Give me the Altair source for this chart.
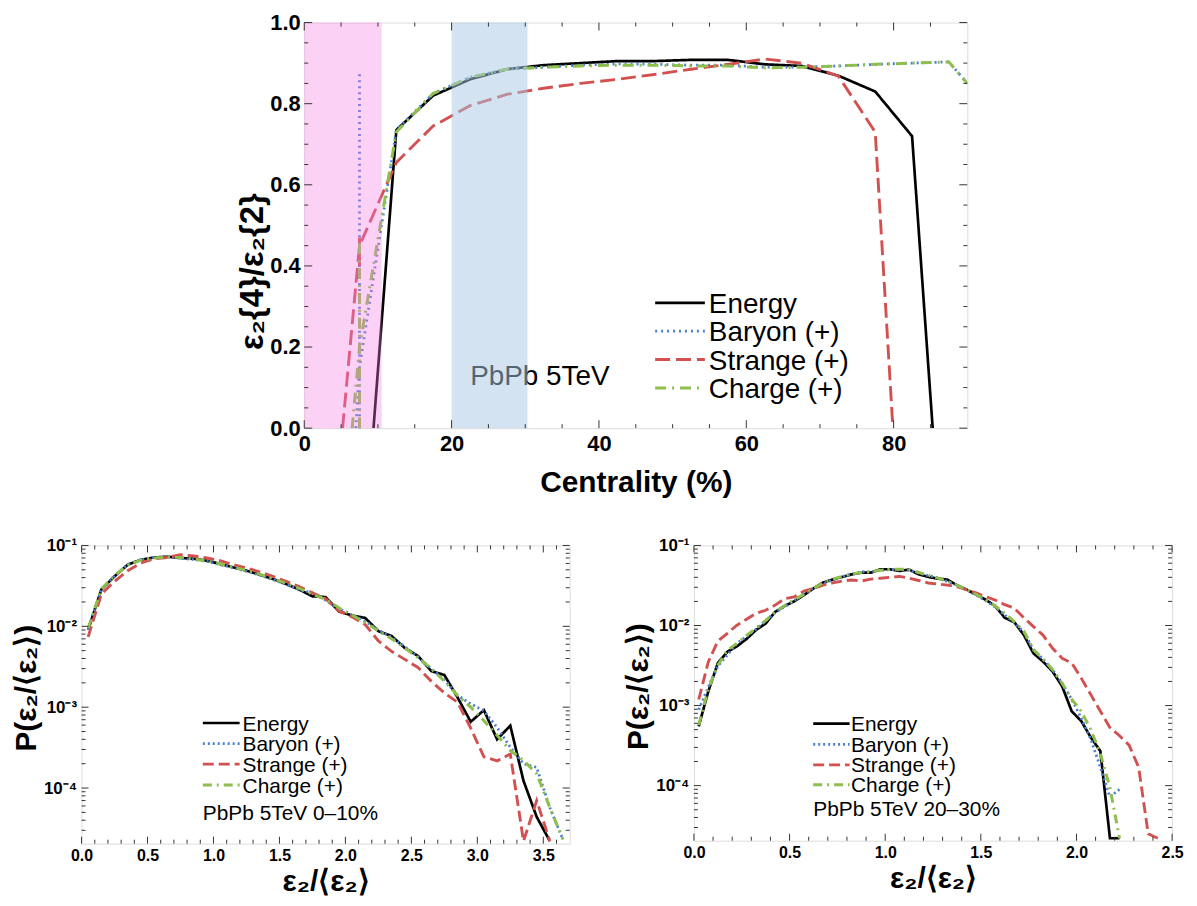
import altair as alt
import pandas as pd

FONT = "Liberation Sans"
SERIES = ["Energy", "Baryon (+)", "Strange (+)", "Charge (+)"]
COLORS = ["#000000", "#4a7fd3", "#d2504f", "#8ebe4b"]

# ---------------- top panel: eps2{4}/eps2{2} vs centrality ----------------
energy_cent = [9.4, 12.5, 17.5, 22.5, 27.5, 32.5, 37.5, 42.5, 47.5, 52.5, 57.5, 62.5, 67.5, 72.5, 77.5, 82.5, 85.3]
energy_ratio = [0.0, 0.735, 0.82, 0.86, 0.885, 0.895, 0.9, 0.905, 0.905, 0.908, 0.908, 0.897, 0.893, 0.869, 0.83, 0.72, 0.0]
baryon_cent = [7.0, 7.5, 12.5, 17.5, 22.5, 27.5, 32.5, 37.5, 42.5, 47.5, 52.5, 57.5, 62.5, 67.5, 72.5, 77.5, 82.5, 87.5, 90.0]
baryon_ratio = [0.0, 0.15, 0.735, 0.825, 0.865, 0.885, 0.89, 0.895, 0.898, 0.897, 0.895, 0.895, 0.89, 0.89, 0.893, 0.897, 0.9, 0.903, 0.85]
strange_cent = [5.2, 7.5, 12.5, 17.5, 22.5, 27.5, 32.5, 37.5, 42.5, 47.5, 52.5, 57.5, 62.5, 67.5, 72.5, 77.5, 79.9]
strange_ratio = [0.0, 0.45, 0.655, 0.745, 0.795, 0.823, 0.838, 0.85, 0.86, 0.872, 0.885, 0.897, 0.91, 0.9, 0.868, 0.73, 0.0]
charge_cent = [6.5, 7.5, 12.5, 17.5, 22.5, 27.5, 32.5, 37.5, 42.5, 47.5, 52.5, 57.5, 62.5, 67.5, 72.5, 77.5, 82.5, 87.5, 90.0]
charge_ratio = [0.0, 0.2, 0.73, 0.825, 0.865, 0.885, 0.89, 0.893, 0.895, 0.895, 0.893, 0.893, 0.888, 0.89, 0.893, 0.897, 0.9, 0.903, 0.85]
err_series = ["Baryon (+)", "Strange (+)", "Charge (+)"]
err_cent = [7.5, 7.5, 7.5]
err_lo = [0.0, 0.40, 0.0]
err_hi = [0.875, 0.47, 0.46]
band_lo = [0.0, 20.0]
band_hi = [10.5, 30.3]
top_note = "PbPb 5TeV"
top_x_major = [0, 20, 40, 60, 80]
top_x_minor = [5, 10, 15, 25, 30, 35, 45, 50, 55, 65, 70, 75, 85]
top_y_major = [0.0, 0.2, 0.4, 0.6, 0.8, 1.0]
top_y_minor = [0.05, 0.1, 0.15, 0.25, 0.3, 0.35, 0.45, 0.5, 0.55, 0.65, 0.7, 0.75, 0.85, 0.9, 0.95]

# ---------------- bottom-left: 0-10% ----------------
bl_x36 = [0.05, 0.15, 0.25, 0.35, 0.45, 0.55, 0.65, 0.75, 0.85, 0.95,
          1.05, 1.15, 1.25, 1.35, 1.45, 1.55, 1.65, 1.75, 1.85, 1.95,
          2.05, 2.15, 2.25, 2.35, 2.45, 2.55, 2.65, 2.75, 2.85, 2.95,
          3.05, 3.15, 3.25, 3.35, 3.45, 3.55]
bl_x37 = bl_x36 + [3.65]
bl_energy = [0.0091, 0.0285, 0.0415, 0.0578, 0.0667, 0.071, 0.0726, 0.070, 0.0686, 0.0648,
             0.059, 0.0536, 0.0488, 0.0436, 0.0385, 0.0334, 0.0285, 0.0235, 0.023, 0.0153,
             0.0136, 0.0127, 0.0087, 0.0076, 0.0054, 0.0043, 0.0028, 0.0025, 0.00132, 0.00066,
             0.00092, 0.0004, 0.00059, 0.000123, 0.000044, 0.000022]
bl_strange = [0.0074, 0.025, 0.036, 0.0488, 0.0607, 0.0686, 0.071, 0.0768, 0.074, 0.070,
              0.065, 0.0578, 0.0526, 0.047, 0.0415, 0.036, 0.031, 0.0259, 0.022, 0.0155,
              0.0131, 0.0105, 0.0066, 0.0049, 0.0039, 0.0031, 0.0021, 0.0015, 0.00115, 0.00055,
              0.000243, 0.000217, 0.000263, 0.000022, 0.00007, 0.000022]
bl_baryon = [0.009, 0.0285, 0.042, 0.058, 0.067, 0.071, 0.072, 0.0695, 0.067, 0.0635,
             0.058, 0.053, 0.048, 0.043, 0.038, 0.033, 0.0285, 0.026, 0.021, 0.0165,
             0.0138, 0.0115, 0.009, 0.0073, 0.0056, 0.0042, 0.003, 0.0022, 0.0014, 0.0011,
             0.0009, 0.00056, 0.00032, 0.0002, 0.00018, 0.000057, 0.000023]
bl_charge = [0.0095, 0.029, 0.0425, 0.057, 0.066, 0.07, 0.0715, 0.071, 0.068, 0.064,
             0.0595, 0.054, 0.049, 0.044, 0.039, 0.034, 0.0295, 0.025, 0.0215, 0.017,
             0.0138, 0.0112, 0.0088, 0.007, 0.0054, 0.0041, 0.003, 0.0021, 0.0014, 0.001,
             0.00068, 0.00045, 0.00029, 0.00022, 0.00015, 0.000057, 0.000023]
bl_note = "PbPb 5TeV 0–10%"
bl_x_major = [0.0, 0.5, 1.0, 1.5, 2.0, 2.5, 3.0, 3.5]
bl_x_minor = [0.1, 0.2, 0.3, 0.4, 0.6, 0.7, 0.8, 0.9, 1.1, 1.2, 1.3, 1.4, 1.6, 1.7, 1.8, 1.9,
              2.1, 2.2, 2.3, 2.4, 2.6, 2.7, 2.8, 2.9, 3.1, 3.2, 3.3, 3.4, 3.6]

# ---------------- bottom-right: 20-30% ----------------
br_x45 = [0.025, 0.075, 0.125, 0.175, 0.225, 0.275, 0.325, 0.375, 0.425, 0.475,
          0.525, 0.575, 0.625, 0.675, 0.725, 0.775, 0.825, 0.875, 0.925, 0.975,
          1.025, 1.075, 1.125, 1.175, 1.225, 1.275, 1.325, 1.375, 1.425, 1.475,
          1.525, 1.575, 1.625, 1.675, 1.725, 1.775, 1.825, 1.875, 1.925, 1.975,
          2.025, 2.075, 2.125, 2.175, 2.225]
br_x49 = br_x45 + [2.275, 2.325, 2.375, 2.425]
br_energy = [0.00055, 0.0015, 0.0034, 0.0047, 0.0055, 0.0068, 0.0088, 0.0106, 0.0148, 0.0176,
             0.0201, 0.024, 0.029, 0.0344, 0.0375, 0.0404, 0.0436, 0.0457, 0.0457, 0.0504,
             0.0504, 0.048, 0.050, 0.0436, 0.0404, 0.0385, 0.0375, 0.0319, 0.0281, 0.0244,
             0.021, 0.0175, 0.0125, 0.011, 0.0076, 0.0045, 0.00355, 0.00267, 0.00174, 0.00085,
             0.00064, 0.0004, 0.00027, 0.000022, 0.000022]
br_strange = [0.00119, 0.0035, 0.0064, 0.008, 0.0101, 0.012, 0.0142, 0.0155, 0.018, 0.0217,
              0.0228, 0.0269, 0.029, 0.032, 0.034, 0.036, 0.037, 0.036, 0.038, 0.039,
              0.040, 0.041, 0.039, 0.0365, 0.034, 0.033, 0.032, 0.0305, 0.028, 0.0255,
              0.023, 0.0208, 0.0182, 0.0165, 0.0125, 0.0097, 0.0076, 0.0052, 0.0039, 0.0034,
              0.0022, 0.00137, 0.00085, 0.00053, 0.00042, 0.00032, 0.00017, 0.000025, 0.000022]
br_baryon = [0.00089, 0.0017, 0.0031, 0.0043, 0.006, 0.0073, 0.009, 0.0115, 0.0145, 0.0172,
             0.0205, 0.025, 0.0295, 0.0335, 0.037, 0.041, 0.0435, 0.047, 0.0465, 0.049,
             0.05, 0.0495, 0.049, 0.0455, 0.042, 0.0395, 0.0355, 0.032, 0.028, 0.024,
             0.0205, 0.017, 0.0135, 0.011, 0.0082, 0.005, 0.0038, 0.0028, 0.0019, 0.0012,
             0.0007, 0.00038, 0.00017, 0.000072, 0.00009]
br_charge = [0.00057, 0.0016, 0.0032, 0.0049, 0.006, 0.0075, 0.0093, 0.0115, 0.0148, 0.0178,
             0.021, 0.0245, 0.029, 0.034, 0.038, 0.041, 0.044, 0.046, 0.047, 0.049,
             0.0505, 0.0505, 0.05, 0.046, 0.0425, 0.039, 0.0355, 0.032, 0.028, 0.0245,
             0.021, 0.0175, 0.0142, 0.0112, 0.0085, 0.005, 0.0038, 0.0028, 0.0019, 0.0012,
             0.00085, 0.0005, 0.00025, 0.000095, 0.000022]
br_note = "PbPb 5TeV 20–30%"
br_x_major = [0.0, 0.5, 1.0, 1.5, 2.0, 2.5]
br_x_minor = [0.1, 0.2, 0.3, 0.4, 0.6, 0.7, 0.8, 0.9, 1.1, 1.2, 1.3, 1.4, 1.6, 1.7, 1.8, 1.9,
              2.1, 2.2, 2.3, 2.4]

LOG_MAJOR = [1e-4, 1e-3, 1e-2, 1e-1]
LOG_MINOR = [3e-5, 4e-5, 5e-5, 6e-5, 7e-5, 8e-5, 9e-5,
             2e-4, 3e-4, 4e-4, 5e-4, 6e-4, 7e-4, 8e-4, 9e-4,
             2e-3, 3e-3, 4e-3, 5e-3, 6e-3, 7e-3, 8e-3, 9e-3,
             2e-2, 3e-2, 4e-2, 5e-2, 6e-2, 7e-2, 8e-2, 9e-2]

TICK_COLOR = "#333333"


def long_df(pairs):
    return pd.concat([pd.DataFrame({"x": xs, "y": ys, "series": n}) for n, xs, ys in pairs],
                     ignore_index=True)


def tick_layers(xs, ys, W, H, x_major, x_minor, y_major, y_minor, maj, mnr):
    out = []
    for vals, L in ((x_major, maj), (x_minor, mnr)):
        d = pd.DataFrame({"t": vals})
        for y0, y1 in ((H, H - L), (0, L)):
            out.append(alt.Chart(d).mark_rule(color=TICK_COLOR, strokeWidth=1).encode(
                x=alt.X("t:Q", scale=xs, axis=None), y=alt.value(y0), y2=alt.value(y1)))
    for vals, L in ((y_major, maj), (y_minor, mnr)):
        d = pd.DataFrame({"t": vals})
        for x0, x1 in ((0, L), (W, W - L)):
            out.append(alt.Chart(d).mark_rule(color=TICK_COLOR, strokeWidth=1).encode(
                y=alt.Y("t:Q", scale=ys, axis=None), x=alt.value(x0), x2=alt.value(x1)))
    return out


def legend_layers(x0, x1, xt, rows, fs, color_enc, dash_enc, width_enc):
    out = []
    for name, yc in zip(SERIES, rows):
        d = pd.DataFrame({"series": [name]})
        out.append(alt.Chart(d).mark_rule().encode(
            x=alt.value(x0), x2=alt.value(x1), y=alt.value(yc), color=color_enc, strokeDash=dash_enc,
            strokeWidth=width_enc))
        out.append(alt.Chart(d).mark_text(align="left", baseline="alphabetic", font=FONT,
                                          fontSize=fs, color="black").encode(
            x=alt.value(xt), y=alt.value(yc + 0.36 * fs), text="series:N"))
    return out


color_enc = alt.Color("series:N", scale=alt.Scale(domain=SERIES, range=COLORS), legend=None)

# ================= top chart =================
TW, TH = 667, 408
top_df = long_df([("Energy", energy_cent, energy_ratio), ("Baryon (+)", baryon_cent, baryon_ratio),
                  ("Strange (+)", strange_cent, strange_ratio), ("Charge (+)", charge_cent, charge_ratio)])
xs_top = alt.Scale(domain=[0, 90], nice=False, zero=False)
ys_top = alt.Scale(domain=[0, 1], nice=False)
dash_top = alt.StrokeDash("series:N", scale=alt.Scale(domain=SERIES, range=[[1, 0], [2, 4], [15, 6], [11, 6, 2, 6]]),
                          legend=None)
width_top = alt.StrokeWidth("series:N", scale=alt.Scale(domain=SERIES, range=[2.7, 3.0, 2.6, 2.6]), legend=None)

top_lines = alt.Chart(top_df).mark_line(clip=True).encode(
    x=alt.X("x:Q", scale=xs_top, axis=alt.Axis(
        values=top_x_major, format="d", ticks=False, domain=False,
        grid=False, labelFlush=False, labelFont=FONT, labelFontSize=22, labelFontWeight="bold",
        labelColor="black", labelPadding=5, title="Centrality (%)",
        titleFont=FONT, titleFontSize=30, titleFontWeight="bold", titleColor="black", titlePadding=14)),
    y=alt.Y("y:Q", scale=ys_top, axis=alt.Axis(
        values=top_y_major, format=".1f", ticks=False,
        domain=False, grid=False, labelFont=FONT, labelFontSize=22, labelFontWeight="bold",
        labelColor="black", labelPadding=4, title="ε₂{4}/ε₂{2}", titleY=250,
        titleFont=FONT, titleFontSize=33, titleFontWeight="bold", titleColor="black", titlePadding=0)),
    color=color_enc, strokeDash=dash_top, strokeWidth=width_top)

err_df = pd.DataFrame({"series": err_series, "x": err_cent, "lo": err_lo, "hi": err_hi})
top_err = alt.Chart(err_df).mark_rule().encode(
    x=alt.X("x:Q", scale=xs_top, axis=None), y=alt.Y("lo:Q", scale=ys_top, axis=None), y2="hi:Q",
    color=color_enc, strokeDash=dash_top, strokeWidth=width_top)

band_df = pd.DataFrame({"lo": band_lo, "hi": band_hi})
pink = alt.Chart(band_df.iloc[[0]]).mark_rect(color="#f67ae4", opacity=0.35).encode(
    x=alt.X("lo:Q", scale=xs_top, axis=None), x2="hi:Q", y=alt.value(0), y2=alt.value(TH))
blue = alt.Chart(band_df.iloc[[1]]).mark_rect(color="#a7c7e3", opacity=0.5).encode(
    x=alt.X("lo:Q", scale=xs_top, axis=None), x2="hi:Q", y=alt.value(0), y2=alt.value(TH))

top_note_l = alt.Chart(pd.DataFrame({"t": [top_note]})).mark_text(
    align="left", baseline="alphabetic", font=FONT, fontSize=28, color="black").encode(
    x=alt.value(167), y=alt.value(365), text="t:N")

top_layers = [top_lines, top_err, top_note_l, pink, blue]
top_layers += legend_layers(353, 403, 407, [282, 310.5, 339, 367.5], 28, color_enc, dash_top, width_top)
top_layers += tick_layers(xs_top, ys_top, TW, TH, top_x_major, top_x_minor, top_y_major, top_y_minor, 8, 4)
top = alt.layer(*top_layers).resolve_axis(x="independent", y="independent").properties(width=TW, height=TH)

# ================= bottom charts =================
dash_bot = alt.StrokeDash("series:N", scale=alt.Scale(domain=SERIES, range=[[1, 0], [2, 3], [11, 5], [9, 5, 2, 5]]),
                          legend=None)
width_bot = alt.StrokeWidth("series:N", scale=alt.Scale(domain=SERIES, range=[2.2, 2.5, 2.2, 2.2]), legend=None)
LOG_EXPR = ("datum.value > 0.05 ? '10⁻¹' : datum.value > 0.005 ? '10⁻²' : "
            "datum.value > 0.0005 ? '10⁻³' : '10⁻⁴'")


def bottom_panel(df, xmax, x_major, x_minor, W, H, leg, note, note_xy):
    xs = alt.Scale(domain=[0, xmax], nice=False, zero=False)
    ys = alt.Scale(type="log", domain=[2.05e-5, 0.1], nice=False)
    lines = alt.Chart(df).mark_line(clip=True).encode(
        x=alt.X("x:Q", scale=xs, axis=alt.Axis(
            values=x_major, format=".1f", ticks=False, domain=False, grid=False,
            labelFlush=False, labelFont=FONT, labelFontSize=16, labelFontWeight="bold", labelColor="black",
            labelPadding=4, title="ε₂/⟨ε₂⟩", titleFont=FONT, titleFontSize=30,
            titleFontWeight="bold", titleColor="black", titlePadding=3)),
        y=alt.Y("y:Q", scale=ys, axis=alt.Axis(
            values=LOG_MAJOR, labelExpr=LOG_EXPR, ticks=False, domain=False, labelOverlap=False,
            grid=False, labelFont=FONT, labelFontSize=17, labelFontWeight="bold", labelColor="black",
            labelPadding=5, title="P(ε₂/⟨ε₂⟩)", titleFont=FONT, titleFontSize=30, titleY=H / 2 - 7,
            titleFontWeight="bold", titleColor="black", titlePadding=2)),
        color=color_enc, strokeDash=dash_bot, strokeWidth=width_bot)
    note_l = alt.Chart(pd.DataFrame({"t": [note]})).mark_text(
        align="left", baseline="alphabetic", font=FONT, fontSize=21, color="black").encode(
        x=alt.value(note_xy[0]), y=alt.value(note_xy[1]), text="t:N")
    layers = [lines, note_l]
    layers += legend_layers(leg[0], leg[1], leg[2], leg[3], 21, color_enc, dash_bot, width_bot)
    layers += tick_layers(xs, ys, W, H, x_major, x_minor, LOG_MAJOR, LOG_MINOR, 7, 4)
    return alt.layer(*layers).resolve_axis(x="independent", y="independent").properties(width=W, height=H)


bl_df = long_df([("Energy", bl_x36, bl_energy), ("Baryon (+)", bl_x37, bl_baryon),
                 ("Strange (+)", bl_x36, bl_strange), ("Charge (+)", bl_x37, bl_charge)])
br_df = long_df([("Energy", br_x45, br_energy), ("Baryon (+)", br_x45, br_baryon),
                 ("Strange (+)", br_x49, br_strange), ("Charge (+)", br_x45, br_charge)])

bl = bottom_panel(bl_df, 3.7, bl_x_major, bl_x_minor,
                  491, 300, (122, 159, 162, [178.6, 199.3, 220, 241]), bl_note, (122, 276))
br = bottom_panel(br_df, 2.5, br_x_major, br_x_minor,
                  481, 297, (120, 156.6, 158, [179.3, 200, 220.7, 240.7]), br_note, (120, 272))

spacer = alt.Chart(pd.DataFrame({"v": [0]})).mark_point(opacity=0).encode(
    x=alt.X("v:Q", axis=None), y=alt.Y("v:Q", axis=None)).properties(
    width=10, height=10, view=alt.ViewBackground(stroke="transparent"))

row1 = alt.hconcat(spacer, top, spacing=144)
row2 = alt.hconcat(bl, br, spacing=53)
chart = alt.vconcat(row1, row2, spacing=37).resolve_scale(strokeDash="independent").properties(
    padding={"left": 3, "top": 0, "right": 5, "bottom": 0}
).configure_view(stroke="#4d4d4d", strokeWidth=1.2).configure(font=FONT, background="white")

chart.save("out.html", embed_options={"renderer": "svg", "actions": False})
